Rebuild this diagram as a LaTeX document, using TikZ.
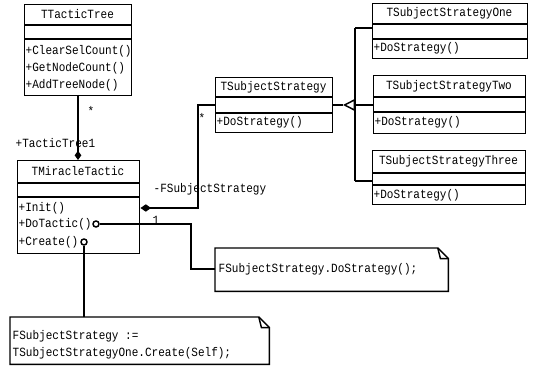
\documentclass[tikz,border=0pt]{standalone}
\usepackage{fontspec}
\setmonofont[FakeStretch=0.88]{Liberation Mono}
\usetikzlibrary{arrows.meta,calc}
\newcommand\umlcls[8]{%
  \node[draw, anchor=north west, minimum width={(#4-#2)*0.75pt}, minimum height={(#5-#3)*0.75pt}] (#1) at (#2,#3) {};
  \draw (#2,#6) -- (#4,#6) (#2,#7) -- (#4,#7);
  \node (#1-t) at ({(#2+#4)/2},{(#3+#6)/2}) {#8};
}
\newcommand\umlop[4]{\node[anchor=west] (#1) at (#2,#3) {#4};}
\begin{document}
\begin{tikzpicture}[x=0.75pt,y=-0.75pt,line width=1.1pt,
  every node/.style={font=\ttfamily\fontsize{9.4}{11}\selectfont, inner sep=0pt, line width=1.1pt},
  dot/.style={circle, draw, fill=white, minimum size=4.5pt},
  comp/.style={{Diamond[fill=black,length=8pt,width=5.5pt]}-},
  compend/.style={-{Diamond[fill=black,length=7pt,width=5pt]}},
  gen/.style={-{Triangle[open,fill=white,length=9pt,width=9pt]}}]
\useasboundingbox (0,0) rectangle (533,366);

% classes
\umlcls{tt}{24}{4}{131}{95}{25}{39}{TTacticTree}
\umlop{tt1}{25}{51}{+ClearSelCount()}
\umlop{tt2}{25}{68}{+GetNodeCount()}
\umlop{tt3}{25}{85}{+AddTreeNode()}

\umlcls{mt}{17}{160}{139}{253}{183}{197}{TMiracleTactic}
\umlop{mt1}{18}{208}{+Init()}
\umlop{mt2}{18}{224}{+DoTactic()}
\umlop{mt3}{18}{242}{+Create()}

\umlcls{ss}{215}{77}{332}{132}{97}{113}{TSubjectStrategy}
\umlop{ss1}{216}{122}{+DoStrategy()}

\umlcls{s1}{372}{3}{527}{58}{24}{39}{TSubjectStrategyOne}
\umlop{s11}{373}{48}{+DoStrategy()}

\umlcls{s2}{373}{75}{525}{133}{97}{112}{TSubjectStrategyTwo}
\umlop{s21}{374}{122}{+DoStrategy()}

\umlcls{s3}{372}{150}{525}{204}{173}{185}{TSubjectStrategyThree}
\umlop{s31}{373}{195}{+DoStrategy()}

% notes
\node[anchor=north west, minimum width={232*0.75pt}, minimum height={42*0.75pt}] (n1) at (215,248) {};
\node[anchor=west] (n1t) at (218,269) {FSubjectStrategy.DoStrategy();};
\draw (n1.north west) -- ([xshift=-8pt]n1.north east) -- ([yshift=-8pt]n1.north east) -- (n1.south east) -- (n1.south west) -- cycle;
\draw ([xshift=-8pt]n1.north east) -- ([xshift=-6pt,yshift=-8pt]n1.north east) -- ([yshift=-8pt]n1.north east);

\node[anchor=north west, minimum width={258*0.75pt}, minimum height={46*0.75pt}] (n2) at (10,317) {};
\node[anchor=west] (n2a) at (12,336) {FSubjectStrategy :=};
\node[anchor=west] (n2b) at (12,353) {TSubjectStrategyOne.Create(Self);};
\draw (n2.north west) -- ([xshift=-8pt]n2.north east) -- ([yshift=-8pt]n2.north east) -- (n2.south east) -- (n2.south west) -- cycle;
\draw ([xshift=-8pt]n2.north east) -- ([xshift=-6pt,yshift=-8pt]n2.north east) -- ([yshift=-8pt]n2.north east);

% aggregation TTacticTree - TMiracleTactic
\coordinate (a0) at (78,95);
\draw[compend] (a0) -- (a0 |- mt.north);
\node (l1) at (91,111) {*};
\node[anchor=west] (l2) at (15,143) {+TacticTree1};

% composition TMiracleTactic - TSubjectStrategy
\coordinate (cj) at (198,208);
\draw[comp] (mt.east |- cj) -- (cj) |- (ss.west);
\node (l3) at (202,118) {*};
\node[anchor=west] (l4) at (153,189) {-FSubjectStrategy};

% generalization
\coordinate (gt) at (343,105);
\coordinate (gj) at (355,105);
\coordinate (g1) at (355,28);
\coordinate (g3) at (355,181);
\draw (ss.east |- gt) -- (gt);
\draw[gen] (gj) -- (gt);
\draw (g1) -- (g3);
\draw (g1) -- (g1 -| s1.west);
\draw (gj) -- (gj -| s2.west);
\draw (g3) -- (g3 -| s3.west);

% DoTactic -> note 1
\node[dot] (c1) at (96,224) {};
\coordinate (d1) at (191,224);
\coordinate (d2) at (191,269);
\draw (c1.east) -- (d1) -- (d2) -- (d2 -| n1.west);
\node (l5) at (156,220) {1};

% Create -> note 2
\node[dot] (c2) at (84,242) {};
\draw (c2.south) -- (c2.south |- n2.north);
\end{tikzpicture}
\end{document}
